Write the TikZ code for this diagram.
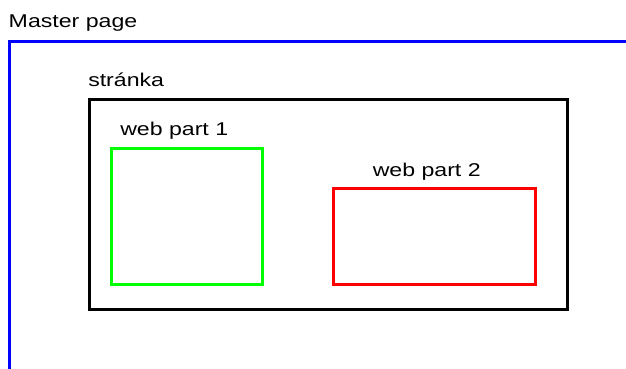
\documentclass[tikz,border=0pt]{standalone}
\usepackage{fontspec}
\setmainfont{Liberation Sans}
\tikzset{
  lbl/.style={anchor=base west, inner sep=0pt, font=\fontsize{18.5pt}{20pt}\selectfont, xscale=1.25, transform shape},
  frame/.style={draw, line width=3pt, inner sep=0pt, outer sep=0pt, anchor=north west}
}
\begin{document}
\begin{tikzpicture}[x=1pt,y=-1pt]
\useasboundingbox (0,0) rectangle (626,368);
% master page frame
\coordinate (mpTR) at (627,41.5);
\coordinate (mpTL) at (9,41.5);
\coordinate (mpBL) at (9,369);
\draw[blue, line width=3pt] (mpTR) -- (mpTL) -- (mpBL);
\node[lbl] (mptext) at (8.5,27.5) {Master page};
% page
\node[frame, black, minimum width=478pt, minimum height=210pt] (page) at (89,99) {};
\node[lbl] (pagetext) at (88,86) {stránka};
% web parts
\node[frame, draw={rgb,255:red,0;green,255;blue,0}, minimum width=151pt, minimum height=136pt] (wp1) at (111,148) {};
\node[lbl] (wp1text) at (120,135) {web part 1};
\node[frame, draw={rgb,255:red,255;green,0;blue,0}, minimum width=202pt, minimum height=96pt] (wp2) at (333,188) {};
\node[lbl] (wp2text) at (372.5,176) {web part 2};
\end{tikzpicture}
\end{document}
